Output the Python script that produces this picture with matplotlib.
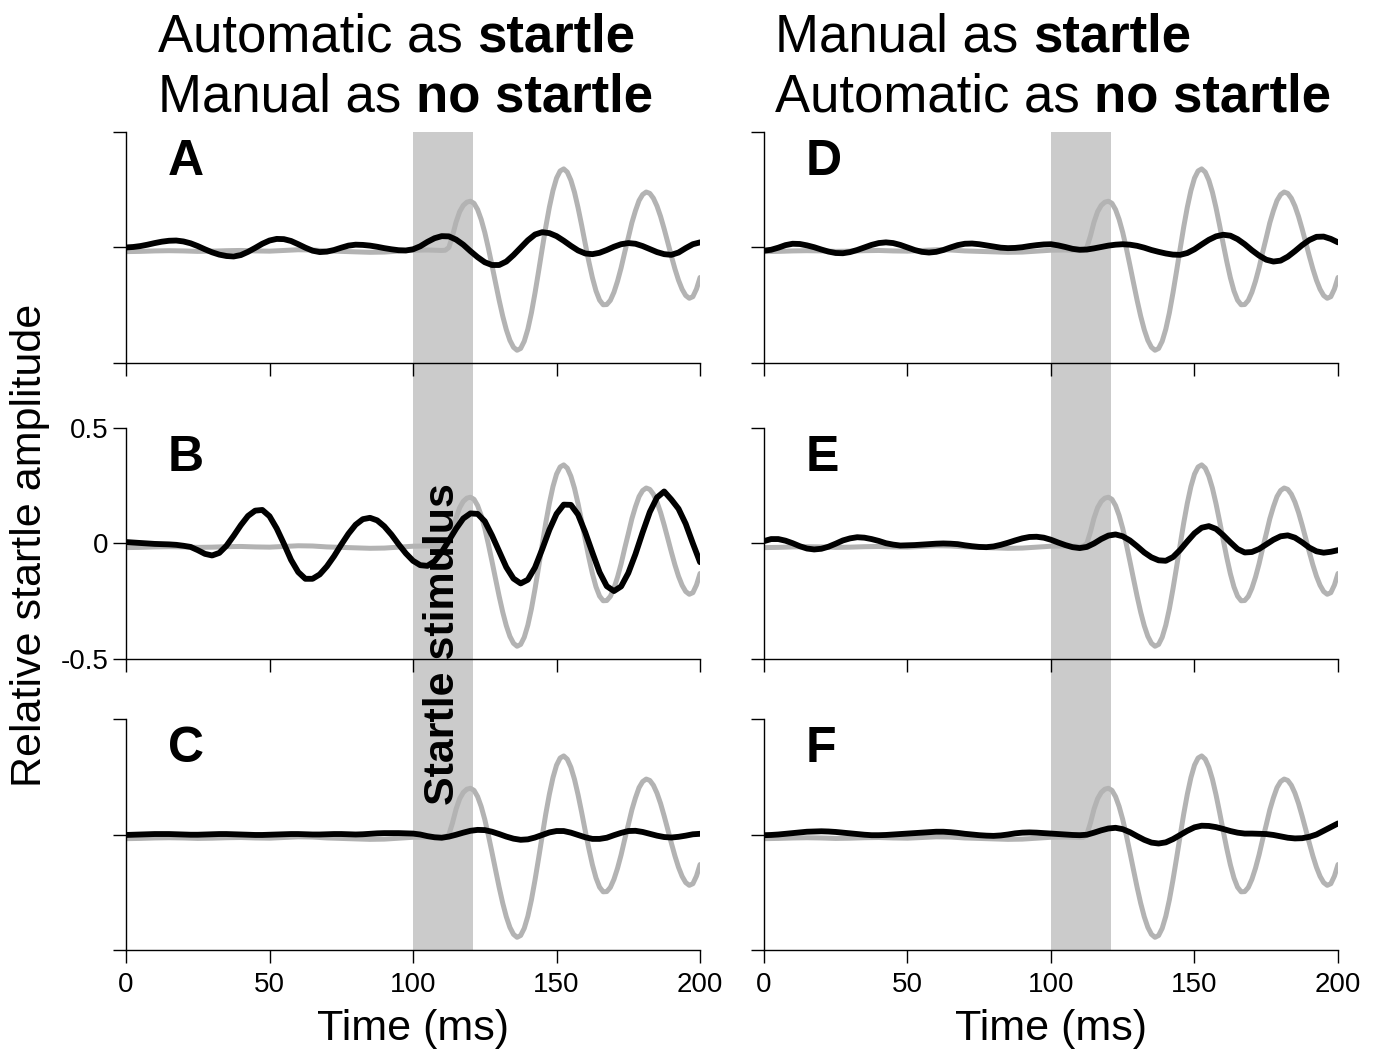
import numpy as np
import matplotlib
matplotlib.use('Agg')
import matplotlib.pyplot as plt
from matplotlib.patches import Rectangle
from matplotlib import transforms

plt.rcParams['font.family'] = ['Liberation Sans', 'DejaVu Sans']

# sample times (ms) of the black traces
t = np.arange(0, 202.5, 2.5)

# startle template (grey trace, same in every panel), denser after onset
t_tmpl = np.concatenate([np.arange(0, 110, 5), np.arange(110, 201.25, 1.25)])
template = [-0.018, -0.017, -0.015, -0.014, -0.015, -0.017, -0.016, -0.014,
            -0.013, -0.015, -0.016, -0.013, -0.010, -0.011, -0.015, -0.017,
            -0.019, -0.021, -0.020, -0.016, -0.012, -0.011,
            -0.013, -0.012, 0.000, 0.050,
            0.110, 0.155, 0.182, 0.196,
            0.200, 0.191, 0.164, 0.121,
            0.065, -0.003, -0.077, -0.153,
            -0.228, -0.297, -0.356, -0.402,
            -0.432, -0.445, -0.437, -0.406,
            -0.354, -0.283, -0.197, -0.103,
            -0.006, 0.089, 0.174, 0.246,
            0.300, 0.331, 0.340, 0.326,
            0.291, 0.239, 0.172, 0.096,
            0.016, -0.061, -0.131, -0.188,
            -0.228, -0.248, -0.247, -0.229,
            -0.194, -0.146, -0.088, -0.021,
            0.042, 0.107, 0.159, 0.203,
            0.229, 0.240, 0.234, 0.213,
            0.179, 0.134, 0.080, 0.022,
            -0.037, -0.093, -0.142, -0.181,
            -0.208, -0.220, -0.213, -0.180,
            -0.130]

# average traces (black)
trace_a = [0.000, 0.002, 0.006, 0.012, 0.019,
           0.025, 0.029, 0.030, 0.026, 0.018,
           0.006, -0.008, -0.021, -0.031, -0.037,
           -0.039, -0.033, -0.019, -0.002, 0.016,
           0.030, 0.037, 0.036, 0.028, 0.014,
           -0.001, -0.014, -0.020, -0.018, -0.011,
           -0.001, 0.008, 0.012, 0.011, 0.008,
           0.003, -0.003, -0.008, -0.012, -0.013,
           -0.008, 0.005, 0.024, 0.040, 0.049,
           0.048, 0.034, 0.012, -0.016, -0.042,
           -0.064, -0.076, -0.076, -0.061, -0.033,
           -0.001, 0.031, 0.056, 0.066, 0.062,
           0.049, 0.029, 0.007, -0.013, -0.026,
           -0.029, -0.023, -0.011, 0.003, 0.014,
           0.019, 0.016, 0.006, -0.007, -0.020,
           -0.029, -0.032, -0.022, -0.003, 0.014,
           0.022]

trace_b = [0.006, 0.004, 0.002, 0.000, -0.002,
           -0.003, -0.004, -0.006, -0.010, -0.015,
           -0.029, -0.045, -0.052, -0.041, -0.010,
           0.033, 0.079, 0.119, 0.142, 0.145,
           0.118, 0.065, -0.001, -0.071, -0.124,
           -0.153, -0.153, -0.134, -0.099, -0.055,
           -0.005, 0.042, 0.081, 0.105, 0.111,
           0.100, 0.074, 0.038, -0.004, -0.043,
           -0.075, -0.094, -0.097, -0.077, -0.037,
           0.013, 0.064, 0.108, 0.130, 0.128,
           0.096, 0.035, -0.034, -0.103, -0.152,
           -0.173, -0.157, -0.104, -0.025, 0.059,
           0.128, 0.168, 0.167, 0.125, 0.048,
           -0.040, -0.125, -0.185, -0.206, -0.186,
           -0.128, -0.046, 0.048, 0.136, 0.199,
           0.225, 0.190, 0.150, 0.085, 0.000,
           -0.081]

trace_c = [-0.002, -0.001, 0.000, 0.001, 0.002,
           0.002, 0.002, 0.001, 0.000, -0.001,
           -0.001, 0.000, 0.001, 0.002, 0.002,
           0.001, 0.000, -0.001, -0.002, -0.002,
           -0.001, 0.000, 0.001, 0.002, 0.002,
           0.001, 0.000, 0.000, 0.001, 0.002,
           0.002, 0.001, 0.000, 0.001, 0.003,
           0.005, 0.006, 0.006, 0.006, 0.005,
           0.004, 0.000, -0.007, -0.012, -0.014,
           -0.009, -0.001, 0.008, 0.016, 0.020,
           0.019, 0.012, 0.002, -0.009, -0.018,
           -0.023, -0.021, -0.013, -0.002, 0.009,
           0.015, 0.015, 0.008, -0.002, -0.012,
           -0.019, -0.019, -0.014, -0.003, 0.007,
           0.015, 0.016, 0.011, 0.003, -0.005,
           -0.011, -0.013, -0.010, -0.005, 0.001,
           0.003]

trace_d = [-0.014, -0.010, -0.001, 0.010, 0.016,
           0.015, 0.009, 0.001, -0.009, -0.018,
           -0.024, -0.025, -0.020, -0.011, 0.000,
           0.011, 0.019, 0.022, 0.019, 0.011,
           0.000, -0.011, -0.019, -0.022, -0.019,
           -0.011, 0.000, 0.010, 0.016, 0.017,
           0.014, 0.009, 0.004, -0.001, -0.003,
           -0.002, 0.001, 0.006, 0.010, 0.013,
           0.014, 0.009, 0.002, -0.006, -0.010,
           -0.009, -0.004, 0.002, 0.008, 0.012,
           0.014, 0.012, 0.007, -0.001, -0.011,
           -0.019, -0.026, -0.031, -0.032, -0.024,
           -0.008, 0.013, 0.033, 0.048, 0.055,
           0.051, 0.036, 0.014, -0.012, -0.035,
           -0.053, -0.061, -0.057, -0.040, -0.016,
           0.010, 0.032, 0.046, 0.047, 0.037,
           0.022]

trace_e = [0.010, 0.019, 0.019, 0.012, 0.001,
           -0.012, -0.022, -0.026, -0.023, -0.014,
           -0.001, 0.013, 0.022, 0.027, 0.025,
           0.019, 0.011, 0.001, -0.005, -0.009,
           -0.008, -0.007, -0.005, -0.003, -0.001,
           0.000, -0.001, -0.003, -0.008, -0.012,
           -0.015, -0.016, -0.013, -0.006, 0.003,
           0.013, 0.022, 0.028, 0.029, 0.025,
           0.016, 0.004, -0.007, -0.016, -0.020,
           -0.015, 0.000, 0.019, 0.034, 0.039,
           0.031, 0.013, -0.012, -0.039, -0.060,
           -0.073, -0.075, -0.059, -0.028, 0.009,
           0.044, 0.068, 0.075, 0.063, 0.036,
           0.005, -0.024, -0.039, -0.037, -0.024,
           -0.004, 0.016, 0.031, 0.035, 0.025,
           0.005, -0.018, -0.034, -0.040, -0.036,
           -0.029]

trace_f = [-0.003, -0.002, 0.000, 0.003, 0.006,
           0.009, 0.012, 0.013, 0.014, 0.013,
           0.011, 0.008, 0.005, 0.002, -0.001,
           -0.003, -0.003, -0.002, 0.000, 0.002,
           0.004, 0.006, 0.008, 0.010, 0.012,
           0.012, 0.010, 0.007, 0.003, 0.000,
           -0.003, -0.005, -0.006, -0.004, 0.000,
           0.005, 0.008, 0.009, 0.008, 0.006,
           0.004, 0.002, 0.000, -0.002, -0.003,
           -0.001, 0.008, 0.018, 0.026, 0.029,
           0.023, 0.010, -0.007, -0.023, -0.035,
           -0.039, -0.034, -0.020, -0.002, 0.016,
           0.031, 0.038, 0.037, 0.032, 0.024,
           0.015, 0.008, 0.004, 0.004, 0.003,
           0.002, -0.002, -0.008, -0.014, -0.017,
           -0.016, -0.010, 0.000, 0.016, 0.032,
           0.048]

traces = [[trace_a, trace_b, trace_c], [trace_d, trace_e, trace_f]]
letters = [['A', 'B', 'C'], ['D', 'E', 'F']]
titles = [[('Automatic as', 'startle'), ('Manual as', 'no startle')],
          [('Manual as', 'startle'), ('Automatic as', 'no startle')]]
xticks = [0, 50, 100, 150, 200]
yticks = [-0.5, 0, 0.5]
ytick_labels = ['-0.5', '0', '0.5']
stim_on, stim_off = 100, 121

band_color = '#cbcbcb'
grey_line = '#b3b3b3'

fig = plt.figure(figsize=(13.74, 10.53), dpi=100)

lefts = [0.0917, 0.556]
bottoms = [0.6553, 0.3742, 0.0978]
w, h = 0.4178, 0.2194

axes = [[None] * 3 for _ in range(2)]
for col in range(2):
    for row in range(3):
        ax = fig.add_axes([lefts[col], bottoms[row], w, h])
        ax.set_facecolor('none')
        ax.plot(t_tmpl, template, color=grey_line, lw=3.6, solid_capstyle='round', zorder=2)
        ax.plot(t, traces[col][row], color='black', lw=4.2, solid_capstyle='round', zorder=3)
        ax.set_xlim(0, 200)
        ax.set_ylim(-0.5, 0.5)
        for s in ['top', 'right']:
            ax.spines[s].set_visible(False)
        for s in ['left', 'bottom']:
            ax.spines[s].set_linewidth(1.0)
        ax.set_xticks(xticks)
        ax.set_yticks(yticks)
        ax.tick_params(direction='out', length=9.5, width=1.0, labelsize=20)
        ax.tick_params(axis='x', pad=6)
        ax.tick_params(axis='y', pad=3)
        if row == 2:
            ax.set_xticklabels([str(x) for x in xticks])
            ax.set_xlabel('Time (ms)', fontsize=31, labelpad=8)
        else:
            ax.set_xticklabels([])
        if col == 0 and row == 1:
            ax.set_yticklabels(ytick_labels)
        else:
            ax.set_yticklabels([])
        ax.text(14.5, 0.47, letters[col][row], fontsize=36, fontweight='bold',
                va='top', ha='left')
        axes[col][row] = ax

    # stimulus band spanning all three panels of the column
    trans = transforms.blended_transform_factory(axes[col][0].transData, fig.transFigure)
    y0 = bottoms[2]
    y1 = bottoms[0] + h
    fig.add_artist(Rectangle((stim_on, y0), stim_off - stim_on, y1 - y0,
                             transform=trans, facecolor=band_color,
                             edgecolor='none', zorder=-1))

# column titles, normal + bold part
title_x = [158 / 1374, 775 / 1374]
title_y = [1 - 52 / 1053, 1 - 112 / 1053]
for col in range(2):
    for i, (plain, bold) in enumerate(titles[col]):
        txt = fig.text(title_x[col], title_y[i], plain, fontsize=38, va='baseline')
        axes[col][0].annotate(bold, xy=(1, 0), xycoords=txt,
                              xytext=(10.5, 0), textcoords='offset points',
                              fontsize=38, fontweight='bold', va='bottom', ha='left')

# rotated stimulus label
trans = transforms.blended_transform_factory(axes[0][2].transData, fig.transFigure)
fig.text(110.5, 1 - 644 / 1053, 'Startle stimulus', transform=trans, rotation=90,
         fontsize=31, fontweight='bold', ha='center', va='center', zorder=5)

fig.text(30 / 1374, 1 - 545 / 1053, 'Relative startle amplitude', rotation=90,
         fontsize=31, ha='center', va='center')

fig.savefig('out.png', dpi=100)
